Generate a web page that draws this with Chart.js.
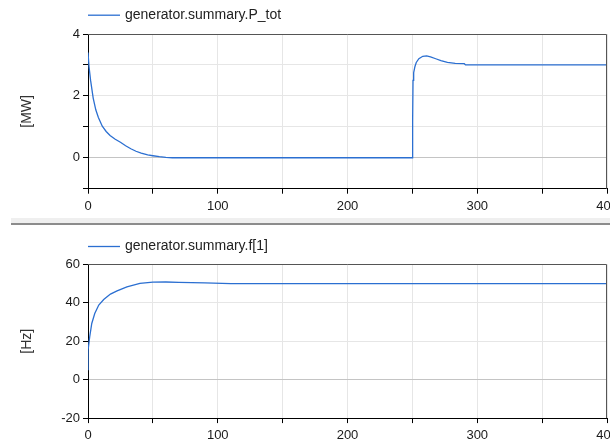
<!DOCTYPE html>
<html>
<head>
<meta charset="utf-8">
<script src="https://cdn.jsdelivr.net/npm/chart.js@4.4.1/dist/chart.umd.min.js"></script>
<style>
    html, body { margin: 0; padding: 0; background: #fff; overflow: hidden; }
    body { width: 610px; height: 442px; position: relative; }
    #power-chart { position: absolute; left: 0; top: 0; }
    #freq-chart { position: absolute; left: 0; top: 225px; }
    .band { position: absolute; left: 11px; top: 218px; width: 599px; height: 5px; background: #efefef; }
    .rule { position: absolute; left: 11px; top: 223px; width: 599px; height: 2px; background: #8c8c8c; }
</style>
</head>
<body>
<canvas id="power-chart" width="610" height="222"></canvas>
<canvas id="freq-chart" width="610" height="225"></canvas>
<div class="band"></div>
<div class="rule"></div>

<script>
// time [s] and values
const powerTime = [0, 0.8, 2, 4, 6, 8, 11, 14, 17, 21, 25, 29, 33, 37, 41, 46, 50, 55, 60, 65,
    250, 250.2, 250.5, 251, 252, 253, 255, 258, 261, 264, 268, 272, 277, 283, 290, 291, 400];
const powerValues = [3.4, 2.94, 2.5, 1.93, 1.55, 1.3, 1.02, 0.85, 0.72, 0.6, 0.5, 0.39, 0.29, 0.21, 0.15, 0.09, 0.065, 0.035, 0.01, 0,
    0, 1.2, 2.5, 2.75, 2.95, 3.08, 3.2, 3.28, 3.29, 3.26, 3.2, 3.14, 3.08, 3.05, 3.04, 3.0, 3.0];

const freqTime = [0, 0.05, 1.3, 2.9, 5.2, 8.3, 12.1, 17.3, 22.4, 30, 40, 50, 60, 70, 90, 110, 150, 400];
const freqValues = [5.2, 15.3, 22.2, 29.2, 34.4, 38.8, 41.7, 44.5, 46.2, 48.3, 50.1, 50.7, 50.8, 50.6, 50.3, 50.0, 49.9, 49.9];

const timeLabels = [0, 100, 200, 300, 400];
const powerLabels = [0, 2, 4];
const freqLabels = [-20, 0, 20, 40, 60];

const LINE_COLOR = '#2b6fd1';
const FONT = '"Liberation Sans", Arial, sans-serif';

const lineLegend = {
    id: 'lineLegend',
    afterDraw(chart, args, opts) {
        const ctx = chart.ctx;
        const left = chart.chartArea.left;
        ctx.save();
        ctx.strokeStyle = LINE_COLOR;
        ctx.lineWidth = 1.3;
        ctx.beginPath();
        ctx.moveTo(left, opts.y + 0.5);
        ctx.lineTo(left + 32, opts.y + 0.5);
        ctx.stroke();
        ctx.fillStyle = '#222';
        ctx.font = '14px ' + FONT;
        ctx.textBaseline = 'middle';
        ctx.fillText(chart.data.datasets[0].label, left + 37, opts.y + 0.5);
        ctx.restore();
    }
};

// darker top/right edges of the plot box
const frame = {
    id: 'frame',
    afterDraw(chart) {
        const { ctx, chartArea: a } = chart;
        const t = Math.round(a.top) + 0.5;
        const r = Math.round(a.right) - 0.5;
        ctx.save();
        ctx.strokeStyle = '#555';
        ctx.lineWidth = 1;
        ctx.beginPath();
        ctx.moveTo(a.left, t);
        ctx.lineTo(r, t);
        ctx.lineTo(r, a.bottom);
        ctx.stroke();
        ctx.restore();
    }
};

function gridColor(c) {
    return c.tick && c.tick.value === 0 ? '#c4c4c4' : '#e6e6e6';
}

function makeChart(canvas, opts) {
    return new Chart(canvas, {
        type: 'line',
        data: {
            datasets: [{
                label: opts.label,
                data: opts.time.map((t, i) => ({ x: t, y: opts.values[i] })),
                borderColor: LINE_COLOR,
                borderWidth: 1.3,
                pointRadius: 0,
                tension: 0,
                fill: false
            }]
        },
        options: {
            responsive: false,
            animation: false,
            devicePixelRatio: 1,
            layout: {
                autoPadding: false,
                padding: { top: opts.padTop, right: 3, bottom: opts.padBottom, left: 0 }
            },
            plugins: {
                legend: { display: false },
                tooltip: { enabled: false },
                lineLegend: { y: opts.legendY }
            },
            scales: {
                x: {
                    type: 'linear',
                    min: 0,
                    max: 400,
                    // let the last label run off the edge like the original
                    afterFit: s => { s.paddingLeft = 0; s.paddingRight = 0; },
                    ticks: {
                        stepSize: 50,
                        padding: 5,
                        color: '#1a1a1a',
                        font: { family: FONT, size: 13 },
                        maxRotation: 0,
                        callback: v => timeLabels.includes(v) ? String(v) : ''
                    },
                    grid: { color: gridColor, tickColor: '#000', tickLength: 5 },
                    border: { color: '#000', width: 1 }
                },
                y: {
                    min: opts.yMin,
                    max: opts.yMax,
                    afterFit: s => { s.width = 88; },
                    ticks: {
                        stepSize: opts.yStep,
                        padding: 3,
                        color: '#1a1a1a',
                        font: { family: FONT, size: 13 },
                        callback: v => opts.yLabels.includes(v) ? String(v) : ''
                    },
                    grid: { color: gridColor, tickColor: '#000', tickLength: 5 },
                    border: { color: '#000', width: 1 },
                    title: {
                        display: true,
                        text: opts.unit,
                        color: '#333',
                        font: { family: FONT, size: 14 },
                        padding: { top: 19, bottom: 0 }
                    }
                }
            }
        },
        plugins: [lineLegend, frame]
    });
}

makeChart(document.getElementById('power-chart'), {
    label: 'generator.summary.P_tot',
    time: powerTime,
    values: powerValues,
    unit: '[MW]',
    yMin: -1, yMax: 4, yStep: 1,
    yLabels: powerLabels,
    padTop: 34, padBottom: 2.7,
    legendY: 14.7
});

makeChart(document.getElementById('freq-chart'), {
    label: 'generator.summary.f[1]',
    time: freqTime,
    values: freqValues,
    unit: '[Hz]',
    yMin: -20, yMax: 60, yStep: 20,
    yLabels: freqLabels,
    padTop: 39.3, padBottom: 1.3,
    legendY: 21
});
</script>
</body>
</html>
